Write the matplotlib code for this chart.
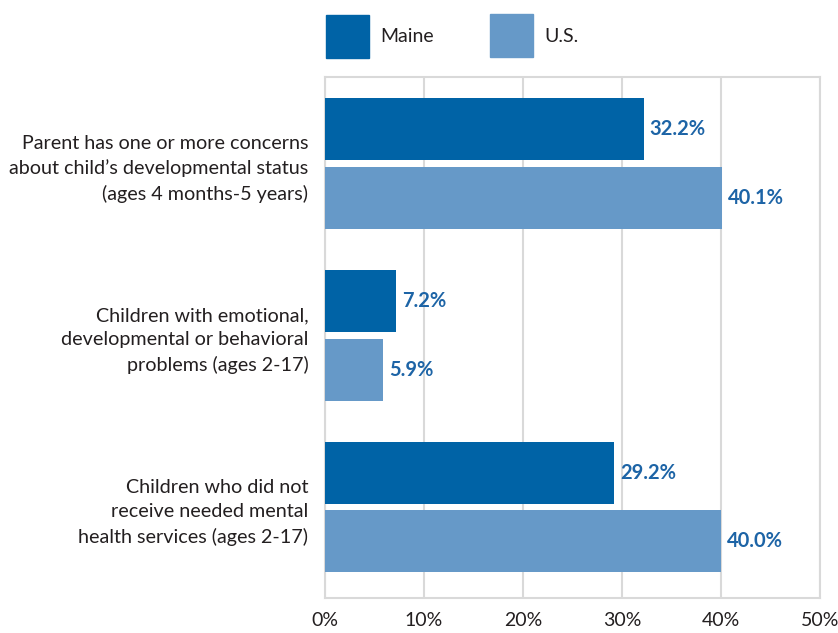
import numpy as np
import matplotlib
matplotlib.use('Agg')
import matplotlib.pyplot as plt
from matplotlib.patches import Rectangle

# Child development / mental health indicators, Maine vs U.S.
categories = ["Parent has one or more concerns\nabout child\u2019s developmental status\n(ages 4 months-5 years)",
              "Children with emotional,\ndevelopmental or behavioral\nproblems (ages 2-17)",
              "Children who did not\nreceive needed mental\nhealth services (ages 2-17)"]
maine = [32.2, 7.2, 29.2]
us = [40.1, 5.9, 40.0]
series_names = ["Maine", "U.S."]
xticks = [0, 10, 20, 30, 40, 50]

maine_color = '#0063a6'
us_color = '#6699c8'
label_color = '#1d64a6'
text_color = '#231f20'
grid_color = '#d9d9d9'

plt.rcParams['font.family'] = ['Lato', 'DejaVu Sans']

W, H = 838, 633
fig = plt.figure(figsize=(W/100, H/100), dpi=100)
ax = fig.add_axes([325/W, 1 - 598/H, (820-325)/W, (598-77)/H])

y = np.arange(len(categories))
h = 0.36
off = 0.2
b1 = ax.barh(y - off, maine, height=h, color=maine_color, zorder=3)
b2 = ax.barh(y + off, us, height=h, color=us_color, zorder=3)

for bars, vals in ((b1, maine), (b2, us)):
    for bar, v in zip(bars, vals):
        ax.text(v + 0.6, bar.get_y() + bar.get_height()/2, '%.1f%%' % v,
                ha='left', va='center', fontsize=14.5, fontweight='bold',
                color=label_color)

ax.set_xlim(0, 50)
ax.set_ylim(2.53, -0.504)
ax.set_xticks(xticks)
ax.set_xticklabels(['%d%%' % t for t in xticks], fontsize=14, color=text_color)
ax.set_yticks(y)
ax.set_yticklabels(categories, fontsize=14.2, color=text_color, linespacing=1.5)
ax.tick_params(axis='both', length=0)
ax.tick_params(axis='x', pad=10)
ax.tick_params(axis='y', pad=12)
ax.xaxis.grid(True, color=grid_color, linewidth=1.5, zorder=0)
for s in ax.spines.values():
    s.set_color(grid_color)
    s.set_linewidth(1.5)

# legend squares and labels along the top
legend_pos = [(326, 15), (490, 14)]
for (x0, y0), name, col in zip(legend_pos, series_names, [maine_color, us_color]):
    fig.add_artist(Rectangle((x0/W, 1 - (y0 + 43)/H), 43/W, 43/H,
                             transform=fig.transFigure, color=col))
    fig.text((x0 + 54)/W, 1 - (y0 + 22)/H, name, fontsize=14,
             color=text_color, ha='left', va='center')

plt.savefig('out.png', dpi=100)
plt.close()
